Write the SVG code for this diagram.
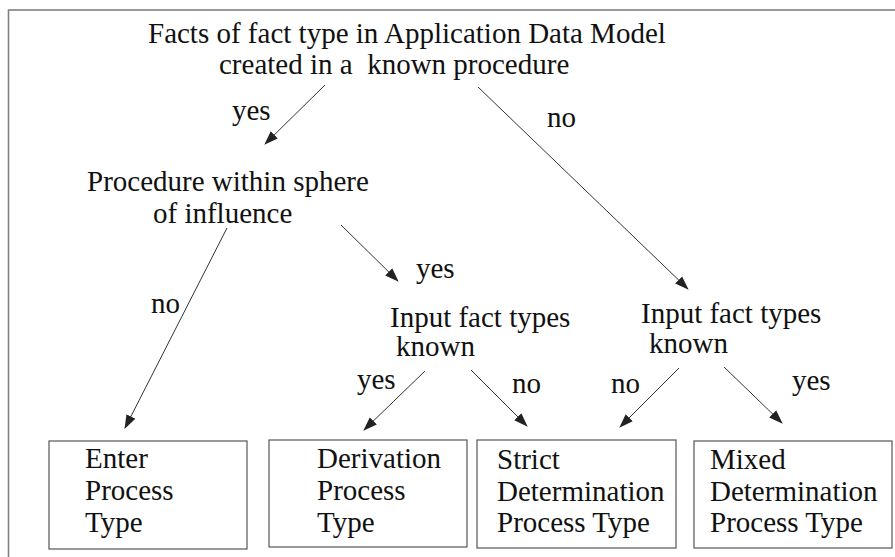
<svg xmlns="http://www.w3.org/2000/svg" width="895" height="557" viewBox="0 0 895 557">
<defs>
<style>
text{font-family:"Liberation Serif","Times New Roman",Times,serif;font-size:29px;fill:#111}
.box{fill:#fff;stroke:#555;stroke-width:1.2}
.edge{stroke:#333;stroke-width:1;fill:none;marker-end:url(#ah)}
</style>
<marker id="ah" markerUnits="userSpaceOnUse" markerWidth="14" markerHeight="12" refX="13" refY="5" orient="auto" viewBox="0 0 14 10">
<path d="M0,0 L14,5 L0,10 z" fill="#222"/>
</marker>
</defs>
<rect width="895" height="557" fill="#fff"/>
<rect x="8.5" y="10" width="920" height="580" fill="none" stroke="#808080" stroke-width="1.6"/>
<g id="q1">
<text x="148" y="43">Facts of fact type in Application Data Model</text>
<text x="219" y="74" xml:space="preserve">created in a  known procedure</text>
</g>
<g id="q2">
<text x="87" y="191">Procedure within sphere</text>
<text x="153" y="223">of influence</text>
</g>
<g id="q3">
<text x="390" y="327">Input fact types</text>
<text x="396" y="356">known</text>
</g>
<g id="q4">
<text x="641" y="323">Input fact types</text>
<text x="649" y="353">known</text>
</g>
<g id="enter">
<rect class="box" x="49" y="441" width="198" height="108"/>
<text x="85" y="468">Enter</text>
<text x="85" y="500">Process</text>
<text x="85" y="532">Type</text>
</g>
<g id="derivation">
<rect class="box" x="269" y="440" width="198" height="107"/>
<text x="317" y="468">Derivation</text>
<text x="317" y="500">Process</text>
<text x="317" y="532">Type</text>
</g>
<g id="strict">
<rect class="box" x="477" y="440" width="199" height="108"/>
<text x="497" y="469">Strict</text>
<text x="497" y="501">Determination</text>
<text x="497" y="532">Process Type</text>
</g>
<g id="mixed">
<rect class="box" x="694" y="441" width="198" height="107"/>
<text x="710" y="469">Mixed</text>
<text x="710" y="501">Determination</text>
<text x="710" y="532">Process Type</text>
</g>
<g id="connectors">
<line class="edge" x1="325" y1="85" x2="265" y2="144"/>
<line class="edge" x1="478" y1="87" x2="688" y2="289"/>
<line class="edge" x1="227" y1="228" x2="125" y2="428"/>
<line class="edge" x1="341" y1="225" x2="398" y2="281"/>
<line class="edge" x1="425" y1="371" x2="364" y2="430"/>
<line class="edge" x1="471" y1="370" x2="527" y2="426"/>
<line class="edge" x1="679" y1="368" x2="620" y2="427"/>
<line class="edge" x1="724" y1="367" x2="782" y2="423"/>
<text x="232" y="120">yes</text>
<text x="547" y="127">no</text>
<text x="151" y="313">no</text>
<text x="416" y="278">yes</text>
<text x="357" y="389">yes</text>
<text x="512" y="393">no</text>
<text x="611" y="393">no</text>
<text x="792" y="390">yes</text>
</g>
</svg>
